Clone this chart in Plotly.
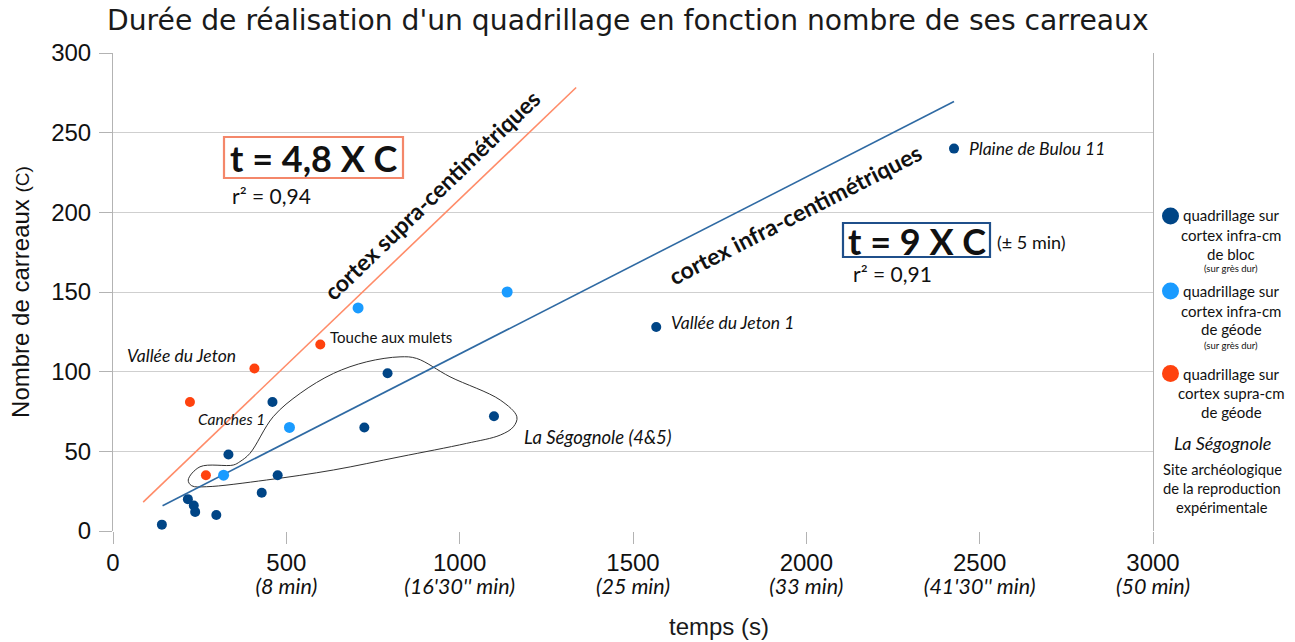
import plotly.graph_objects as go

# --- data -------------------------------------------------------------
# infra-centimetric cortex, block (sur grès dur)
bloc_t = [141, 216, 233, 237, 298, 333, 429, 460, 475, 725, 792, 1099, 1567, 2426]
bloc_c = [4, 20, 16, 12, 10, 48, 24, 81, 35, 65, 99, 72, 128, 240]
# infra-centimetric cortex, geode
geode_t = [319, 509, 707, 1137]
geode_c = [35, 65, 140, 150]
# supra-centimetric cortex, geode
supra_t = [222, 268, 408, 598]
supra_c = [81, 35, 102, 117]

# trend lines: t = k x C
supra_k = 4.8
supra_span = [87, 1336]
infra_k = 9
infra_span = [143, 2426]

x_ticks = [0, 500, 1000, 1500, 2000, 2500, 3000]
x_minutes = ["", "(8 min)", "(16'30'' min)", "(25 min)", "(33 min)", "(41'30'' min)", "(50 min)"]
y_ticks = [0, 50, 100, 150, 200, 250, 300]

# La Ségognole outline (t, C)
loop_t = [217, 251, 347, 366, 395, 462, 540, 636, 732, 828, 876, 972, 1117, 1165,
          1155, 1117, 1020, 828, 636, 443, 270, 227, 217]
loop_c = [32, 40.3, 41.4, 43.5, 48.7, 71.7, 86.4, 98.9, 106.2, 109.3, 108.3, 96.8, 82.2, 71.7,
          65.4, 60.2, 55, 46.6, 38.3, 32, 27.8, 28.4, 32]

DARK = "#004586"
LIGHT = "#1a9bff"
ORANGE = "#ff420e"
SANS = "Liberation Sans"
CAL = "Lato"

W, H = 1295, 642
L, R, T, B = 113, 1153, 53, 531


def xp(px):
    return (px - L) / (R - L)


def yp(py):
    return (B - py) / (B - T)


fig = go.Figure()

fig.add_trace(go.Scatter(x=loop_t, y=loop_c, mode="lines",
                         line=dict(color="#333333", width=1, shape="spline", smoothing=1.0),
                         hoverinfo="skip", showlegend=False))

fig.add_trace(go.Scatter(x=supra_span, y=[t / supra_k for t in supra_span], mode="lines",
                         line=dict(color="#ff8c69", width=1.6), showlegend=False))
fig.add_trace(go.Scatter(x=infra_span, y=[t / infra_k for t in infra_span], mode="lines",
                         line=dict(color="#2f6aa3", width=1.6), showlegend=False))

marker_size = 10
fig.add_trace(go.Scatter(x=bloc_t, y=bloc_c, mode="markers",
                         marker=dict(color=DARK, size=marker_size), showlegend=False))
fig.add_trace(go.Scatter(x=geode_t, y=geode_c, mode="markers",
                         marker=dict(color=LIGHT, size=marker_size + 1), showlegend=False))
fig.add_trace(go.Scatter(x=supra_t, y=supra_c, mode="markers",
                         marker=dict(color=ORANGE, size=marker_size), showlegend=False))

tick_text = []
for v, m in zip(x_ticks, x_minutes):
    txt = f"<span style='font-size:24px'>{v}</span>"
    if m:
        txt += f"<br><span style='font-family:{CAL};font-size:21.5px'><i>{m}</i></span>"
    tick_text.append(txt)

ann = []


def label(x, y, text, size=15, italic=False, bold=False, anchor="left", color="#111111",
          ref="data", family=CAL, angle=0, **kw):
    t = text
    if italic:
        t = f"<i>{t}</i>"
    if bold:
        t = f"<b>{t}</b>"
    d = dict(x=x, y=y, text=t, showarrow=False, xanchor=anchor, yanchor="middle",
             font=dict(family=family, size=size, color=color), textangle=angle)
    if ref == "paper":
        d.update(xref="paper", yref="paper")
    d.update(kw)
    ann.append(d)


# title and axis title
label(xp(628), yp(20), "Durée de réalisation d'un quadrillage en fonction nombre de ses carreaux",
      size=28.2, anchor="center", ref="paper", family="DejaVu Sans", color="#1a1a1a")
label(xp(719), yp(626), "temps (s)", size=24, anchor="center", ref="paper", family=SANS,
      color="#1a1a1a")

# point labels
label(2464, 240.3, "Plaine de Bulou 11", size=17.5, italic=True)
label(1604, 131, "Vallée du Jeton 1", size=17.5, italic=True)
label(620, 122, "Touche aux mulets", size=15)
label(35, 110, "Vallée du Jeton", size=17.5, italic=True)
label(239, 70, "Canches 1", size=15.5, italic=True)
label(1180, 59, "La Ségognole (4&5)", size=18.5, italic=True)

# equations, framed
shapes = []
shapes.append(dict(type="rect", xref="paper", yref="paper",
                   x0=xp(224), x1=xp(403), y0=yp(178), y1=yp(137),
                   line=dict(color="#f4876a", width=2.2), fillcolor="rgba(0,0,0,0)"))
shapes.append(dict(type="rect", xref="paper", yref="paper",
                   x0=xp(843), x1=xp(990), y0=yp(257), y1=yp(223),
                   line=dict(color="#1f4f8a", width=2.2), fillcolor="rgba(0,0,0,0)"))
label(xp(313.5), yp(158), "t = 4,8 X C", size=36, bold=True, anchor="center", ref="paper")
label(337.5, 210.8, "r² = 0,94", size=21)
label(xp(916.5), yp(241), "t = 9 X C", size=36, bold=True, anchor="center", ref="paper")
label(2545, 181.3, "(± 5 min)", size=18)
label(2129, 161.9, "r² = 0,91", size=21)

# rotated captions along the trend lines
label(919, 211, "cortex supra-centimétriques", size=23, bold=True, anchor="center", angle=-44)
label(1968, 199, "cortex infra-centimétriques", size=23, bold=True, anchor="center", angle=-27)

# side key
for cy, col in [(216, DARK), (291, LIGHT), (373.5, ORANGE)]:
    shapes.append(dict(type="circle", xref="paper", yref="paper",
                       x0=xp(1162), x1=xp(1179), y0=yp(cy + 8.5), y1=yp(cy - 8.5),
                       fillcolor=col, line=dict(width=0)))

key_lines = [
    (1231, 215, "quadrillage sur", 15), (1231, 235, "cortex infra-cm", 15),
    (1231, 254, "de bloc", 15), (1231, 268, "(sur grès dur)", 9.5),
    (1231, 291, "quadrillage sur", 15), (1231, 310.5, "cortex infra-cm", 15),
    (1231, 329, "de géode", 15), (1231, 345.5, "(sur grès dur)", 9.5),
    (1231, 373.5, "quadrillage sur", 15), (1231, 393, "cortex supra-cm", 15),
    (1231, 412, "de géode", 15),
    (1222, 469, "Site archéologique", 14.7), (1222, 488, "de la reproduction", 14.7),
    (1222, 506.5, "expérimentale", 14.7),
]
for kx, ky, txt, sz in key_lines:
    label(xp(kx), yp(ky), txt, size=sz, anchor="center", ref="paper")
label(xp(1222), yp(443), "La Ségognole", size=18, italic=True, anchor="center", ref="paper")

fig.update_layout(
    width=W, height=H,
    margin=dict(l=L, r=W - R, t=T, b=H - B),
    paper_bgcolor="white", plot_bgcolor="white",
    annotations=ann, shapes=shapes,
    xaxis=dict(range=[0, 3000], tickvals=x_ticks, ticktext=tick_text,
               showgrid=False, zeroline=False, showline=False,
               ticks="outside", ticklen=12, tickcolor="#b3b3b3", ticklabelstandoff=5,
               tickfont=dict(family=SANS, size=18, color="#111111")),
    yaxis=dict(range=[0, 300], tickvals=y_ticks,
               showgrid=True, gridcolor="#cfcfcf", gridwidth=1,
               zeroline=False, showline=True, linecolor="#b3b3b3", mirror=True,
               ticks="outside", ticklen=13, tickcolor="#b3b3b3", ticklabelstandoff=3,
               tickfont=dict(family=SANS, size=24, color="#111111"),
               title=dict(text="Nombre de carreaux <span style='font-size:19px'>(C)</span>",
                          font=dict(family=SANS, size=24, color="#111111"), standoff=14)),
)

fig.write_html("out.html")
